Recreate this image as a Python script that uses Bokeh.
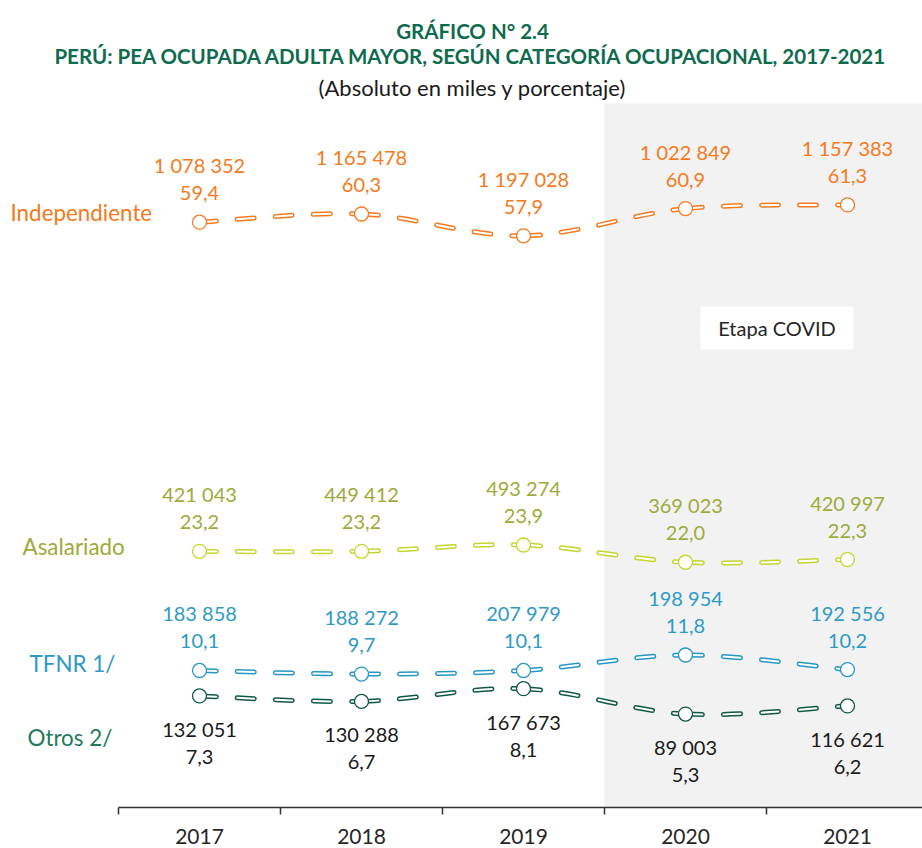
from bokeh.plotting import figure
from bokeh.models import Range1d, FixedTicker, BoxAnnotation, Label
from bokeh.core.properties import value
from bokeh.embed import file_html
from bokeh.resources import INLINE

# ---------------- data ----------------
years = ["2017", "2018", "2019", "2020", "2021"]
series_names = ["Independiente", "Asalariado", "TFNR 1/", "Otros 2/"]

indep_pct = [59.4, 60.3, 57.9, 60.9, 61.3]
indep_abs = [1078352, 1165478, 1197028, 1022849, 1157383]
asal_pct = [23.2, 23.2, 23.9, 22.0, 22.3]
asal_abs = [421043, 449412, 493274, 369023, 420997]
tfnr_pct = [10.1, 9.7, 10.1, 11.8, 10.2]
tfnr_abs = [183858, 188272, 207979, 198954, 192556]
otros_pct = [7.3, 6.7, 8.1, 5.3, 6.2]
otros_abs = [132051, 130288, 167673, 89003, 116621]

covid_start_index = 3  # 2020 onward
title1 = "GRÁFICO N° 2.4"
title2 = "PERÚ: PEA OCUPADA ADULTA MAYOR, SEGÚN CATEGORÍA OCUPACIONAL, 2017-2021"
subtitle = "(Absoluto en miles y porcentaje)"
band_label = "Etapa COVID"

# ---------------- layout helpers ----------------
FONT = "Lato"
W, H = 922, 848
AXIS_Y = 807            # pixel row of the x axis line
PX_PER_UNIT = 9.093     # vertical pixels per percentage point
Y_AT_AXIS = -4.97
X_LEFT, CAT_W = 118, 162


def dx(px):
    return (px - X_LEFT) / CAT_W


def dy(py):
    return Y_AT_AXIS + (AXIS_Y - py) / PX_PER_UNIT


def fmt_abs(v):
    return f"{v:,}".replace(",", " ")


def fmt_pct(v):
    return f"{v:.1f}".replace(".", ",")


xs = [i + 0.5 for i in range(len(years))]

p = figure(width=W, height=H,
           x_range=Range1d(dx(0), dx(W)), y_range=Range1d(dy(AXIS_Y), dy(0)),
           output_backend="svg", toolbar_location=None,
           min_border_left=0, min_border_right=0,
           min_border_top=0, min_border_bottom=H - AXIS_Y)
p.outline_line_color = None
p.xgrid.visible = False
p.ygrid.visible = False
p.yaxis.visible = False
p.background_fill_color = "white"
p.border_fill_color = "white"

# x axis: labels at category centres, ticks at boundaries
p.xaxis.bounds = (0, len(years))
p.xaxis.ticker = FixedTicker(ticks=xs, minor_ticks=list(range(len(years) + 1)))
p.xaxis.major_label_overrides = {x: y for x, y in zip(xs, years)}
p.xaxis.major_tick_in = 0
p.xaxis.major_tick_out = 0
p.xaxis.minor_tick_in = 0
p.xaxis.minor_tick_out = 7
p.xaxis.minor_tick_line_color = "#333333"
p.xaxis.minor_tick_line_width = 1.5
p.xaxis.axis_line_color = "#333333"
p.xaxis.axis_line_width = 1.5
p.xaxis.major_label_standoff = 14
p.xaxis.major_label_text_font = FONT
p.xaxis.major_label_text_font_size = "21px"
p.xaxis.major_label_text_color = "#262626"

# COVID band
p.add_layout(BoxAnnotation(left=covid_start_index, top=dy(103), fill_color="#F2F2F2",
                           fill_alpha=1, line_color=None, level="underlay"))
p.add_layout(BoxAnnotation(left=dx(700), right=dx(853), top=dy(306), bottom=dy(349),
                           fill_color="white", fill_alpha=1, line_color=None,
                           level="underlay"))
p.add_layout(Label(x=dx(776.5), y=dy(327.5), text=band_label, text_align="center",
                   text_baseline="middle", text_font=FONT, text_font_size="20px",
                   text_color="#262626"))


def curve(ys):
    n = len(ys)
    seg = dict(x0=[], y0=[], x1=[], y1=[], cx0=[], cy0=[], cx1=[], cy1=[])
    for i in range(n - 1):
        xm, ym = (xs[i - 1], ys[i - 1]) if i > 0 else (xs[i], ys[i])
        xp, yp = (xs[i + 2], ys[i + 2]) if i + 2 < n else (xs[i + 1], ys[i + 1])
        seg["x0"].append(xs[i]); seg["y0"].append(ys[i])
        seg["x1"].append(xs[i + 1]); seg["y1"].append(ys[i + 1])
        seg["cx0"].append(xs[i] + (xs[i + 1] - xm) / 6)
        seg["cy0"].append(ys[i] + (ys[i + 1] - ym) / 6)
        seg["cx1"].append(xs[i + 1] - (xp - xs[i]) / 6)
        seg["cy1"].append(ys[i + 1] - (yp - ys[i]) / 6)
    return seg


specs = [
    # name, pct, abs, line colour, value-label colour, labels above?, name label pos, name colour
    (series_names[0], indep_pct, indep_abs, "#F47A20", "#F47A20", True, (10, 212), "#F47A20"),
    (series_names[1], asal_pct, asal_abs, "#C3D52E", "#9DAB3A", True, (22, 546), "#9DAB3A"),
    (series_names[2], tfnr_pct, tfnr_abs, "#2597C4", "#2E9AC6", True, (29, 663), "#2E9AC6"),
    (series_names[3], otros_pct, otros_abs, "#0E5A3E", "#1A1A1A", False, (27, 737), "#237A5B"),
]

for name, pct, absval, lc, tc, above, (lx, ly), nc in specs:
    seg = curve(pct)
    p.bezier(**seg, line_color=lc, line_width=5, line_dash="17 21", line_cap="round")
    p.bezier(**seg, line_color="white", line_width=2, line_dash="17 21", line_cap="round")
    p.scatter(xs, pct, size=14, fill_color="white", line_color=lc, line_width=1.3)
    off1, off2 = (-57, -29) if above else (33, 61)
    p.text(xs, pct, text=[fmt_abs(v) for v in absval], y_offset=off1,
           text_align="center", text_baseline="middle", text_font=value(FONT),
           text_font_size="20px", text_color=tc)
    p.text(xs, pct, text=[fmt_pct(v) for v in pct], y_offset=off2,
           text_align="center", text_baseline="middle", text_font=value(FONT),
           text_font_size="20px", text_color=tc)
    p.add_layout(Label(x=dx(lx), y=dy(ly), text=name, text_align="left",
                       text_baseline="middle", text_font=FONT, text_font_size="22.4px",
                       text_color=nc))

# titles
p.add_layout(Label(x=dx(472), y=dy(30), text=title1, text_align="center",
                   text_baseline="middle", text_font=FONT, text_font_size="20.5px",
                   text_font_style="bold", text_color="#0E6B4D"))
p.add_layout(Label(x=dx(471), y=dy(55.5), text=title2, text_align="center",
                   text_baseline="middle", text_font=FONT, text_font_size="20.5px",
                   text_font_style="bold", text_color="#0E6B4D"))
p.add_layout(Label(x=dx(472), y=dy(86.5), text=subtitle, text_align="center",
                   text_baseline="middle", text_font=FONT, text_font_size="22px",
                   text_color="#1A1A1A"))

open("out.html", "w").write(file_html(p, INLINE))
